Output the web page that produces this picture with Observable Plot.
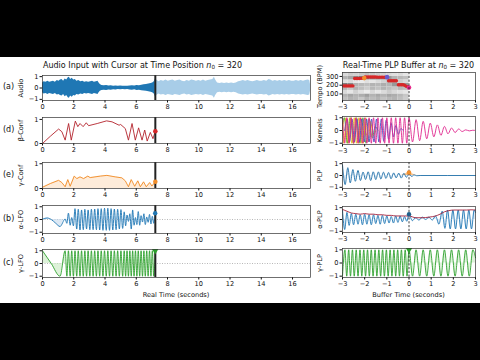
<!DOCTYPE html>
<html><head><meta charset="utf-8">
<script src="https://cdn.jsdelivr.net/npm/d3@7"></script>
<script src="https://cdn.jsdelivr.net/npm/@observablehq/plot@0.6"></script>
<style>
body{margin:0;background:#000;}
#root{position:relative;width:480px;height:360px;background:#000;overflow:hidden;font-family:"DejaVu Sans",sans-serif;}
#sheet{position:absolute;left:0;top:57px;width:480px;height:246px;background:#fff;}
.t{position:absolute;color:#111;white-space:nowrap;line-height:1;}
.t sub{font-size:70%;vertical-align:-0.25em;line-height:0;}
</style></head><body><div id="root"><div id="sheet"></div></div>
<script>
// ---------------- data ----------------
const realTicks = [0, 2, 4, 6, 8, 10, 12, 14, 16];
const bufferTicks = [-3, -2, -1, 0, 1, 2, 3];
const cursorTime = 7.22;
const frameIndex = 320;

// (a) audio envelope, played part and part ahead of the cursor
const audioTimePlayed = [0.00,0.10,0.22,0.35,0.45,0.58,0.70,0.82,0.95,1.05,
  1.15,1.25,1.35,1.45,1.55,1.65,1.72,1.80,1.90,2.00,
  2.10,2.20,2.32,2.45,2.58,2.70,2.82,2.95,3.08,3.20,
  3.32,3.45,3.55,3.62,3.70,3.80,3.95,4.10,4.25,4.40,
  4.55,4.70,4.85,5.00,5.15,5.30,5.45,5.60,5.75,5.90,
  6.05,6.20,6.35,6.50,6.65,6.80,6.95,7.05,7.15,7.22];
const audioAmpPlayed = [0.45,0.55,0.5,0.6,0.5,0.55,0.6,0.5,0.65,0.6,
  0.7,0.75,0.6,0.8,0.7,0.9,0.95,0.75,0.85,0.7,
  0.75,0.6,0.65,0.55,0.6,0.5,0.55,0.5,0.55,0.6,
  0.5,0.55,0.6,0.45,0.3,0.22,0.2,0.22,0.18,0.2,
  0.16,0.18,0.15,0.17,0.15,0.16,0.15,0.18,0.2,0.17,
  0.22,0.2,0.25,0.28,0.3,0.35,0.4,0.45,0.55,0.8];
const audioTimeAhead = [7.22,7.30,7.45,7.60,7.75,7.90,8.05,8.20,8.35,8.50,
  8.65,8.80,8.95,9.10,9.25,9.40,9.55,9.70,9.85,10.00,
  10.15,10.30,10.45,10.60,10.75,10.90,11.00,11.08,11.20,11.35,
  11.50,11.65,11.80,11.95,12.10,12.25,12.40,12.55,12.70,12.85,
  13.00,13.15,13.30,13.45,13.60,13.75,13.90,14.05,14.20,14.35,
  14.50,14.60,14.75,14.90,15.05,15.20,15.35,15.50,15.65,15.80,
  15.95,16.10,16.25,16.40,16.55,16.70,16.85,17.00,17.10,17.15];
const audioAmpAhead = [0.8,0.7,0.55,0.65,0.6,0.7,0.6,0.65,0.7,0.6,
  0.65,0.7,0.6,0.55,0.65,0.6,0.7,0.65,0.6,0.65,
  0.6,0.7,0.6,0.65,0.7,0.75,0.95,0.7,0.45,0.4,
  0.45,0.4,0.45,0.4,0.45,0.4,0.45,0.55,0.6,0.65,
  0.6,0.65,0.6,0.55,0.6,0.65,0.6,0.6,0.65,0.6,
  0.75,0.7,0.6,0.65,0.6,0.65,0.6,0.65,0.6,0.65,
  0.6,0.6,0.65,0.6,0.65,0.6,0.65,0.7,0.65,0.3];

// (d) beta confidence
const betaTime = [0,0.5,1.03,1.24,1.45,1.67,1.84,2.10,2.26,2.40,
  2.60,2.80,2.95,3.50,4.10,4.45,4.90,5.00,5.30,5.50,
  5.73,5.94,6.15,6.37,6.54,6.70,6.90,7.07,7.22];
const betaConf = [0,0.3,0.6,0.49,0.14,0.83,0.14,0.93,0.70,0.83,
  0.70,0.86,0.74,0.83,0.94,0.90,0.76,0.79,0.62,0.14,
  0.83,0.14,0.65,0.14,0.56,0.10,0.46,0.20,0.51];

// (e) gamma confidence
const gammaConfTime = [0,0.5,1.03,1.24,1.45,1.62,1.77,2.03,2.20,2.40,
  2.63,2.90,3.05,3.70,4.12,4.65,5.08,5.30,5.50,5.68,
  5.90,6.10,6.26,6.47,6.64,6.86,7.00,7.22];
const gammaConf = [0.05,0.2,0.33,0.24,0.07,0.36,0.09,0.5,0.4,0.47,
  0.4,0.5,0.44,0.5,0.53,0.47,0.43,0.31,0.07,0.36,
  0.09,0.31,0.07,0.27,0.07,0.24,0.1,0.27];

// (b),(c) LFO extrema times after the slow start
const lfoExtremaTime = [1.45,1.56,1.66,1.77,1.87,1.98,2.08,2.19,2.29,2.40,
  2.50,2.61,2.71,2.82,2.92,3.03,3.13,3.24,3.34,3.45,
  3.55,3.66,3.76,3.87,3.97,4.08,4.18,4.29,4.39,4.50,
  4.60,4.71,4.81,4.92,5.02,5.13,5.23,5.32,5.41,5.50,
  5.59,5.68,5.77,5.86,5.95,6.04,6.13,6.22,6.31,6.40,
  6.49,6.58,6.67,6.76,6.85,6.94,7.03,7.12,7.21];
const alphaStartTime = [0, 0.3, 0.56, 0.85, 1.12];
const alphaStart = [0.02, 0.12, 0.0, -0.3, -0.55];
const alphaLFO = [0.03,-0.3,0.5,-0.45,0.15,-0.5,0.85,-0.75,0.8,-0.82,
  0.75,-0.8,0.8,-0.75,0.75,-0.8,0.8,-0.8,0.82,-0.8,
  0.85,-0.82,0.85,-0.85,0.88,-0.85,0.88,-0.85,0.85,-0.82,
  0.82,-0.8,0.8,-0.75,0.78,-0.7,0.6,-0.5,0.35,-0.15,
  0.45,-0.75,0.75,-0.45,0.15,-0.4,0.62,-0.45,0.3,-0.2,
  0.45,-0.4,0.2,-0.22,0.4,-0.35,0.25,-0.3,0.5];
const gammaStartTime = [0, 0.56, 1.12];
const gammaStart = [1, 0, -1];
const gammaLFO = [1,-1,1,-1,1,-1,1,-1,1,-1,
  1,-1,1,-1,1,-1,1,-1,1,-1,
  1,-1,1,-1,1,-1,1,-1,1,-1,
  1,-1,1,-1,1,-1,1,-1,1,-1,
  1,-1,1,-1,1,-1,1,-1,1,-1,
  1,-1,1,-1,1,-1,1,-1,1];

// Tempogram (buffer) cells
const tgTimeEdges = [-3,-2.75,-2.5,-2.25,-2,-1.75,-1.5,-1.25,-1,-0.75,-0.5,-0.25,0];
const tgTempoEdges = [25,60,100,140,180,220,260,300,345];
const tgGray = [
  [0.75,0.7,0.72,0.78,0.7,0.74,0.7,0.76,0.72,0.7,0.75,0.8],
  [0.7,0.65,0.7,0.68,0.62,0.7,0.66,0.7,0.65,0.68,0.72,0.78],
  [0.85,0.9,0.82,0.88,0.92,0.85,0.9,0.86,0.8,0.85,0.88,0.9],
  [0.72,0.78,0.7,0.75,0.8,0.72,0.76,0.7,0.74,0.78,0.72,0.75],
  [0.5,0.55,0.7,0.72,0.75,0.7,0.72,0.68,0.7,0.6,0.55,0.6],
  [0.88,0.85,0.9,0.92,0.88,0.9,0.86,0.82,0.7,0.65,0.8,0.85],
  [0.7,0.65,0.55,0.5,0.5,0.52,0.5,0.55,0.6,0.7,0.72,0.75],
  [0.85,0.8,0.82,0.78,0.75,0.78,0.8,0.82,0.85,0.88,0.86,0.9]];
const tempoTime = [-2.95,-2.88,-2.81,-2.74,-2.67,-2.60,-2.53,
  -2.45,-2.38,-2.31,-2.24,-2.17,-2.10,
  -1.98,-1.90,-1.82,-1.74,-1.66,-1.58,-1.50,-1.42,-1.34,-1.26,-1.18,-1.10,
  -0.92,-0.85,-0.78,-0.71,-0.64,-0.57,
  -0.48,-0.41,-0.34,-0.27,-0.20,
  -0.13,-0.06];
const tempoBPM = [192,192,192,192,192,192,192,
  277,277,277,277,278,280,
  294,294,294,294,294,294,294,292,292,292,292,290,
  250,250,250,250,250,250,
  205,205,205,205,200,
  188,182];
const tempoMarkTime = [-2.02, -0.99, 0];
const tempoMarkBPM = [281, 292, 174];
const tempoMarkColor = ["#f28e2b", "#6a5acd", "#e7298a"];

// Kernels
const kernelYellowTime = [-3.0,-2.89,-2.79,-2.68,-2.58,-2.47,-2.37,-2.26,-2.16,-2.05,-1.95,-1.85];
const kernelYellow = [0.2,1,-1,1,-1,1,-1,1,-1,0.8,-0.4,0];
const kernelGreenTime = [-3.0,-2.92,-2.78,-2.64,-2.50,-2.36,-2.22,-2.08,-1.94,-1.80,-1.66,-1.52,-1.4];
const kernelGreen = [0.5,1,-1,1,-1,1,-1,1,-1,0.9,-0.6,0.3,0];
const kernelOrangeTime = [-3.0,-2.94,-2.83,-2.72,-2.61,-2.50,-2.39,-2.28,-2.17,-2.06,-1.95,-1.84,-1.73,-1.62,-1.5];
const kernelOrange = [0.6,-1,1,-1,1,-1,1,-1,1,-1,1,-0.9,0.7,-0.4,0];
const kernelBlueTime = [-2.9,-2.79,-2.68,-2.57,-2.46,-2.35,-2.24,-2.13,-2.02,-1.91,
  -1.80,-1.69,-1.58,-1.47,-1.36,-1.25,-1.14,-1.03,-0.92,-0.81,
  -0.70,-0.59,-0.48,-0.37,-0.26];
const kernelBlue = [0,0.9,-0.9,0.9,-0.9,0.9,-0.9,0.9,-0.9,0.9,
  -0.9,0.9,-0.9,0.9,-0.9,0.9,-0.85,0.8,-0.7,0.6,
  -0.5,0.4,-0.3,0.15,0];
const kernelMagentaTime = [-3.0,-2.9,-2.8,-2.7,-2.6,-2.5,-2.4,-2.3,-2.2,-2.1,
  -2.0,-1.9,-1.8,-1.7,-1.6,-1.5,-1.4,-1.3,-1.2,-1.1,
  -1.0,-0.9,-0.8,-0.7,-0.6,-0.5,-0.4,-0.3,-0.2,-0.1,0.0,
  0.16,0.32,0.48,0.64,0.80,0.96,1.12,1.28,1.44,1.60,1.76,1.92,2.08,2.24,2.40,2.56,2.72,2.88,3.0];
const kernelMagenta = [1,-1,1,-1,1,-1,1,-1,1,-1,
  1,-1,1,-1,1,-1,1,-1,1,-1,
  1,-1,1,-1,1,-1,1,-1,1,-1,1,
  -0.9,0.85,-0.8,0.72,-0.65,0.58,-0.5,0.44,-0.38,0.32,-0.26,0.2,-0.16,0.12,-0.08,0.05,-0.03,0.02,0];

// PLP
const plpTime = [-3.0,-2.88,-2.76,-2.65,-2.53,-2.42,-2.30,-2.19,-2.07,-1.96,
  -1.84,-1.73,-1.61,-1.50,-1.38,-1.27,-1.15,-1.04,-0.92,-0.81,
  -0.69,-0.58,-0.46,-0.35,-0.23,-0.12,0.0,0.12,0.23,0.35,0.5,3.0];
const plp = [0.9,-0.77,0.66,-0.63,0.5,-0.49,0.43,-0.43,0.29,-0.34,
  0.31,-0.43,0.31,-0.35,0.3,-0.3,0.28,-0.25,0.25,-0.28,
  0.22,-0.2,0.2,-0.22,0.18,-0.15,0.15,-0.08,0.05,-0.02,0,0];
const plpKernelTime = [-0.35,-0.2,-0.1,0,0.1,0.2,0.35];
const plpKernel = [0,0.1,0.2,0.25,0.2,0.1,0];

// alpha-PLP
const alphaPlpTime = [-3.0,-2.9,-2.8,-2.7,-2.6,-2.5,-2.4,-2.3,-2.2,-2.1,
  -2.0,-1.9,-1.8,-1.7,-1.6,-1.5,-1.4,-1.3,-1.2,-1.1,
  -1.0,-0.9,-0.8,-0.7,-0.6,-0.5,-0.4,-0.3,-0.2,-0.1,0.0,
  0.15,0.3,0.45,0.6,0.75,0.9,1.05,1.2,1.35,1.5,1.62,1.74,1.86,1.98,2.1,2.22,2.34,2.46,2.58,2.7,2.82,2.94,3.0];
const alphaPlp = [0.8,-0.85,0.6,-0.5,0.5,-0.45,0.45,-0.4,0.4,-0.45,
  0.45,-0.4,0.4,-0.45,0.4,-0.35,0.35,-0.4,0.35,-0.35,
  0.3,-0.3,0.25,-0.3,0.3,-0.25,0.3,-0.2,0.25,-0.15,0.45,
  -0.1,0.15,-0.05,0.2,0.0,0.2,-0.05,0.3,-0.4,0.7,-0.75,0.8,-0.8,0.8,-0.8,0.8,-0.8,0.8,-0.8,0.8,-0.8,0.8,0.6];
const alphaEnvTime = [-3,-2.8,-2.6,-2.4,-2.2,-2.0,-1.8,-1.6,-1.4,-1.2,-1.0,-0.8,-0.6,-0.4,-0.2,0,0.3,0.6,0.9,1.2,1.4,1.6,1.8,2.0,2.2,2.4,2.6,2.8,3.0];
const alphaEnv = [0.85,0.7,0.55,0.5,0.45,0.5,0.45,0.45,0.4,0.4,0.35,0.35,0.3,0.3,0.3,0.3,0.15,0.15,0.2,0.3,0.45,0.65,0.75,0.8,0.8,0.8,0.8,0.82,0.8];

// gamma-PLP
const gammaPlpTime = [-3.0,-2.89,-2.81,-2.72,-2.64,-2.55,-2.47,-2.38,-2.30,-2.21,
  -2.13,-2.04,-1.96,-1.87,-1.79,-1.70,-1.62,-1.53,-1.45,-1.36,
  -1.28,-1.19,-1.11,-1.02,-0.94,-0.85,-0.77,-0.68,-0.60,-0.51,
  -0.43,-0.34,-0.26,-0.17,-0.09,0.0,0.16,0.32,0.48,0.64,
  0.80,0.96,1.12,1.28,1.44,1.60,1.76,1.92,2.08,2.24,
  2.40,2.56,2.72,2.88,3.0];
const gammaPlp = [-1,1,-1,1,-1,1,-1,1,-1,1,
  -1,1,-1,1,-1,1,-1,1,-1,1,
  -1,1,-1,1,-1,1,-1,1,-1,1,
  -1,1,-1,1,-1,1,-1,1,-1,1,
  -1,1,-1,1,-1,1,-1,1,-1,1,
  -1,1,-1,1,0.4];

// ---------------- drawing ----------------
const root = document.getElementById("root");
const zip = (xs, ys) => xs.map((x, i) => ({x, y: ys[i]}));
const FONT = "DejaVu Sans";

function addText(html, x, y, size, anchor = "start") {
  const d = document.createElement("div");
  d.className = "t";
  d.innerHTML = html;
  d.style.left = x + "px";
  d.style.top = y + "px";
  d.style.fontSize = size + "px";
  const tx = anchor === "middle" ? "-50%" : anchor === "end" ? "-100%" : "0";
  d.style.transform = `translate(${tx}, -50%)`;
  root.append(d);
}

function panel(box, o) {
  const [svgLeft, fl, fr, ft, fb, mr] = box;
  const mt = 4, mb = 14;
  const p = Plot.plot({
    width: fr + mr - svgLeft, height: fb - ft + mt + mb,
    marginLeft: fl - svgLeft, marginRight: mr, marginTop: mt, marginBottom: mb,
    style: {background: "transparent", fontFamily: FONT, fontSize: "6.6px", color: "#111", overflow: "visible"},
    x: {domain: o.xDomain, ticks: o.xTicks, tickFormat: "d", tickSize: 2.5, tickPadding: 1.5, label: null},
    y: {domain: o.yDomain, ticks: o.yTicks, tickFormat: "d", tickSize: 2.5, tickPadding: 1.5, label: o.yLabel,
        labelAnchor: "center", labelOffset: o.labelOffset, labelArrow: "none"},
    color: o.color,
    marks: [...o.marks, Plot.frame({stroke: "#333", strokeWidth: 0.7})]
  });
  p.style.position = "absolute";
  p.style.left = svgLeft + "px";
  p.style.top = (ft - mt) + "px";
  root.append(p);
}

const L = (ft, fb) => [0, 42, 310, ft, fb, 8];
const R = (ft, fb) => [312, 342, 475, ft, fb, 5];
const realX = {xDomain: [0, 17.15], xTicks: realTicks};
const bufX = {xDomain: [-3, 3], xTicks: bufferTicks};
const sym = [-1.1, 1.1];
const LOFF = 24, ROFF = 25.5;
const cursorRule = Plot.ruleX([cursorTime], {stroke: "#222", strokeWidth: 2});
const zeroDotted = Plot.ruleY([0], {stroke: "#999", strokeWidth: 0.7, strokeDasharray: "1,1.5"});
const zeroDashed = Plot.ruleX([0], {stroke: "#111", strokeWidth: 0.8, strokeDasharray: "2.2,1.6"});

// (a) Audio
const played = zip(audioTimePlayed, audioAmpPlayed);
const ahead = zip(audioTimeAhead, audioAmpAhead);
panel(L(75, 100), {...realX, yDomain: sym, yTicks: [-1, 0, 1], yLabel: "Audio", labelOffset: LOFF, marks: [
  Plot.areaY(ahead, {x: "x", y1: d => -0.95 * d.y, y2: "y", fill: "#a8cde8"}),
  Plot.areaY(played, {x: "x", y1: d => -0.95 * d.y, y2: "y", fill: "#1f77b4"}),
  cursorRule
]});

// (d) beta-Conf
const beta = zip(betaTime, betaConf);
panel(L(117, 143), {...realX, yDomain: [0, 1.08], yTicks: [0, 1], yLabel: "β-Conf", labelOffset: LOFF, marks: [
  Plot.lineY(beta, {x: "x", y: "y", stroke: "#b3232b", strokeWidth: 0.9}),
  cursorRule,
  Plot.dot([beta[beta.length - 1]], {x: "x", y: "y", fill: "#d62728", r: 2.3})
]});

// (e) gamma-Conf
const gconf = zip(gammaConfTime, gammaConf);
panel(L(162, 188), {...realX, yDomain: [0, 1.05], yTicks: [0, 1], yLabel: "γ-Conf", labelOffset: LOFF, marks: [
  Plot.areaY(gconf, {x: "x", y: "y", fill: "#fdd9b5", fillOpacity: 0.5}),
  Plot.lineY(gconf, {x: "x", y: "y", stroke: "#f08a24", strokeWidth: 0.9}),
  cursorRule,
  Plot.dot([gconf[gconf.length - 1]], {x: "x", y: "y", fill: "#f28e2b", r: 2.3})
]});

// (b) alpha-LFO
const alpha = zip(alphaStartTime.concat(lfoExtremaTime), alphaStart.concat(alphaLFO));
panel(L(205, 233), {...realX, yDomain: sym, yTicks: [-1, 0, 1], yLabel: "α-LFO", labelOffset: LOFF, marks: [
  zeroDotted,
  Plot.areaY(alpha, {x: "x", y: "y", fill: "#c6dbef", fillOpacity: 0.6, curve: "monotone-x"}),
  Plot.lineY(alpha, {x: "x", y: "y", stroke: "#1f77b4", strokeWidth: 0.9, curve: "monotone-x"}),
  cursorRule,
  Plot.dot([alpha[alpha.length - 1]], {x: "x", y: "y", fill: "#1f77b4", r: 2.2})
]});

// (c) gamma-LFO
const gamma = zip(gammaStartTime.concat(lfoExtremaTime), gammaStart.concat(gammaLFO));
panel(L(249, 277), {...realX, yDomain: sym, yTicks: [-1, 0, 1], yLabel: "γ-LFO", labelOffset: LOFF, marks: [
  zeroDotted,
  Plot.areaY(gamma, {x: "x", y: "y", fill: "#c7e9c0", fillOpacity: 0.6, curve: "monotone-x"}),
  Plot.lineY(gamma, {x: "x", y: "y", stroke: "#2ca02c", strokeWidth: 0.9, curve: "monotone-x"}),
  cursorRule,
  Plot.dot([gamma[gamma.length - 1]], {x: "x", y: "y", fill: "#2ca02c", r: 2.4, symbol: "triangle", rotate: 180})
]});

// Tempo buffer
const cells = [];
tgGray.forEach((row, j) => row.forEach((v, i) => cells.push({
  x1: tgTimeEdges[i], x2: tgTimeEdges[i + 1], y1: tgTempoEdges[j], y2: tgTempoEdges[j + 1], v})));
panel(R(72, 100), {...bufX, yDomain: [25, 345], yTicks: [100, 200, 300], yLabel: "Tempo (BPM)", labelOffset: ROFF,
  color: {type: "linear", domain: [0, 1], range: ["#000000", "#ffffff"]}, marks: [
  Plot.rect(cells, {x1: "x1", x2: "x2", y1: "y1", y2: "y2", fill: "v"}),
  Plot.dot(zip(tempoTime, tempoBPM), {x: "x", y: "y", fill: "#d62728", r: 1.7}),
  Plot.dot(tempoMarkTime.map((x, i) => ({x, y: tempoMarkBPM[i], c: tempoMarkColor[i]})), {x: "x", y: "y", fill: d => d.c, r: 2.3}),
  zeroDashed
]});

// Kernels
panel(R(116, 144), {...bufX, yDomain: sym, yTicks: [-1, 0, 1], yLabel: "Kernels", labelOffset: ROFF, marks: [
  Plot.lineY(zip(kernelYellowTime, kernelYellow), {x: "x", y: "y", stroke: "#e8c21a", strokeWidth: 0.9, curve: "monotone-x", clip: true}),
  Plot.lineY(zip(kernelGreenTime, kernelGreen), {x: "x", y: "y", stroke: "#4daf4a", strokeWidth: 0.9, curve: "monotone-x", clip: true}),
  Plot.lineY(zip(kernelOrangeTime, kernelOrange), {x: "x", y: "y", stroke: "#f39c12", strokeWidth: 0.9, curve: "monotone-x", clip: true}),
  Plot.lineY(zip(kernelBlueTime, kernelBlue), {x: "x", y: "y", stroke: "#4b4fc4", strokeWidth: 0.9, curve: "monotone-x", clip: true}),
  Plot.lineY(zip(kernelMagentaTime, kernelMagenta), {x: "x", y: "y", stroke: "#e0288f", strokeWidth: 0.9, curve: "monotone-x", clip: true}),
  zeroDashed
]});

// PLP
const plpData = zip(plpTime, plp);
const plpK = zip(plpKernelTime, plpKernel);
panel(R(162, 188), {...bufX, yDomain: sym, yTicks: [-1, 0, 1], yLabel: "PLP", labelOffset: ROFF, marks: [
  Plot.areaY(plpData, {x: "x", y: "y", fill: "#c6dbef", fillOpacity: 0.6, curve: "monotone-x"}),
  Plot.areaY(plpK, {x: "x", y: "y", fill: "#f6b26b", fillOpacity: 0.8, curve: "monotone-x"}),
  Plot.lineY(plpData, {x: "x", y: "y", stroke: "#1f6fa8", strokeWidth: 0.9, curve: "monotone-x"}),
  zeroDashed,
  Plot.dot([plpK[3]], {x: "x", y: "y", fill: "#f28e2b", r: 2.3})
]});

// alpha-PLP
const aplp = zip(alphaPlpTime, alphaPlp);
panel(R(206, 232), {...bufX, yDomain: sym, yTicks: [-1, 0, 1], yLabel: "α-PLP", labelOffset: ROFF, marks: [
  Plot.areaY(aplp, {x: "x", y: "y", fill: "#c6dbef", fillOpacity: 0.6, curve: "monotone-x"}),
  Plot.lineY(aplp, {x: "x", y: "y", stroke: "#1f77b4", strokeWidth: 0.9, curve: "monotone-x"}),
  Plot.lineY(zip(alphaEnvTime, alphaEnv), {x: "x", y: "y", stroke: "#a3203a", strokeWidth: 0.9, curve: "monotone-x"}),
  zeroDashed,
  Plot.dot([aplp[30]], {x: "x", y: "y", fill: "#1f5f8b", r: 2.2})
]});

// gamma-PLP
const gplp = zip(gammaPlpTime, gammaPlp);
panel(R(248, 277), {...bufX, yDomain: sym, yTicks: [-1, 0, 1], yLabel: "γ-PLP", labelOffset: ROFF, marks: [
  Plot.areaY(gplp, {x: "x", y: "y", fill: "#c7e9c0", fillOpacity: 0.6, curve: "monotone-x"}),
  Plot.lineY(gplp, {x: "x", y: "y", stroke: "#2ca02c", strokeWidth: 0.9, curve: "monotone-x"}),
  zeroDashed,
  Plot.dot([gplp[35]], {x: "x", y: "y", fill: "#2ca02c", r: 2.4, symbol: "triangle", rotate: 180})
]});

// Texts
addText(`Audio Input with Cursor at Time Position <i>n</i><sub>0</sub> = ${frameIndex}`, 43, 66, 8);
addText(`Real-Time PLP Buffer at <i>n</i><sub>0</sub> = ${frameIndex}`, 408.5, 66, 8, "middle");
addText("Real Time (seconds)", 176, 295, 6.6, "middle");
addText("Buffer Time (seconds)", 408.5, 295, 6.6, "middle");
[["(a)", 87], ["(d)", 130], ["(e)", 175], ["(b)", 219], ["(c)", 263]].forEach(([s, y]) => addText(s, 3, y, 8));
</script></body></html>
